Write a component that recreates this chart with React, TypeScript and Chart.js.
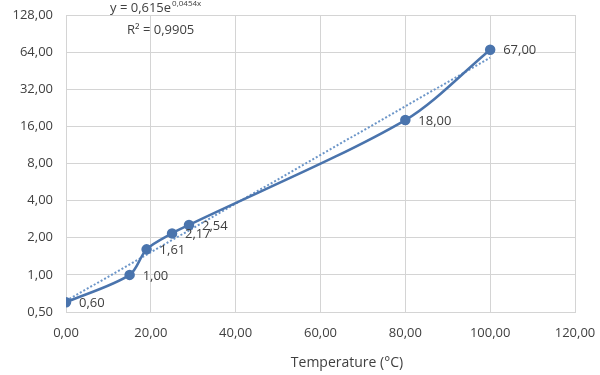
import React, { useEffect, useRef } from "react";
import { Chart, registerables } from "chart.js";

Chart.register(...registerables);

const temperatures = [0, 15, 19, 25, 29, 80, 100];
const values = [0.6, 1.0, 1.61, 2.17, 2.54, 18, 67];
const valueLabels = ["0,60", "1,00", "1,61", "2,17", "2,54", "18,00", "67,00"];
const trendX = [0, 100];
const trendY = [0.615, 57.7];
const yTicks = [0.5, 1, 2, 4, 8, 16, 32, 64, 128];
const xTicks = [0, 20, 40, 60, 80, 100, 120];
const equationMain = "y = 0,615e";
const equationExp = "0,0454x";
const rSquared = "R² = 0,9905";
const xTitle = "Temperature (°C)";

const FONT = "'Open Sans', 'DejaVu Sans', sans-serif";
const fmt = (v: number) => v.toFixed(2).replace(".", ",");

export default function App() {
  const ref = useRef<HTMLCanvasElement | null>(null);

  useEffect(() => {
    document.body.style.margin = "0";
    const canvas = ref.current;
    if (!canvas) return;

    const labelPlugin = {
      id: "customText",
      afterDatasetsDraw(chart: any) {
        const ctx = chart.ctx;
        const meta = chart.getDatasetMeta(0);
        ctx.save();
        ctx.fillStyle = "#404040";
        ctx.font = `13px ${FONT}`;
        ctx.textAlign = "left";
        ctx.textBaseline = "middle";
        meta.data.forEach((pt: any, i: number) => {
          ctx.fillText(valueLabels[i], pt.x + 13, pt.y + 1);
        });
        // equation
        ctx.font = `13px ${FONT}`;
        ctx.textBaseline = "middle";
        const x0 = 110;
        ctx.fillText(equationMain, x0, 8);
        const w = ctx.measureText(equationMain).width;
        ctx.font = `8px ${FONT}`;
        ctx.fillText(equationExp, x0 + w + 1, 4);
        ctx.font = `13px ${FONT}`;
        ctx.fillText(rSquared, 127, 30);
        // axis title
        ctx.textAlign = "center";
        ctx.font = `14px ${FONT}`;
        ctx.fillText(xTitle, 347, 363);
        ctx.restore();
      },
    };

    const chart = new Chart(canvas, {
      type: "scatter",
      data: {
        datasets: [
          {
            label: "data",
            data: temperatures.map((t, i) => ({ x: t, y: values[i] })),
            showLine: true,
            borderColor: "#4a74ad",
            backgroundColor: "#4a74ad",
            borderWidth: 2.5,
            pointRadius: 4,
            pointHoverRadius: 4,
            tension: 0.3,
            order: 1,
          },
          {
            label: "trend",
            data: trendX.map((t, i) => ({ x: t, y: trendY[i] })),
            showLine: true,
            borderColor: "#6b95c8",
            borderWidth: 2,
            borderDash: [2, 2],
            pointRadius: 0,
            order: 2,
          },
        ],
      },
      options: {
        animation: false,
        responsive: false,
        layout: { padding: { top: 15, right: 25, left: 0, bottom: 0 } },
        plugins: {
          legend: { display: false },
          tooltip: { enabled: false },
        },
        scales: {
          x: {
            type: "linear",
            min: 0,
            max: 120,
            afterBuildTicks(axis: any) {
              axis.ticks = xTicks.map((v) => ({ value: v }));
            },
            afterFit(axis: any) {
              axis.height = 63;
              axis.paddingLeft = 0;
              axis.paddingRight = 0;
            },
            grid: { color: "#d4d4d4", drawTicks: false, lineWidth: 1 },
            border: { color: "#d4d4d4" },
            ticks: {
              padding: 13,
              color: "#404040",
              font: { family: FONT, size: 13 },
              callback: (v: any) => fmt(Number(v)),
              maxRotation: 0,
            },
          },
          y: {
            type: "logarithmic",
            min: 0.5,
            max: 128,
            afterBuildTicks(axis: any) {
              axis.ticks = yTicks.map((v) => ({ value: v }));
            },
            afterFit(axis: any) {
              axis.width = 66;
              axis.paddingTop = 0;
              axis.paddingBottom = 0;
            },
            grid: { color: "#d4d4d4", drawTicks: false, lineWidth: 1 },
            border: { color: "#d4d4d4" },
            ticks: {
              padding: 13,
              color: "#404040",
              font: { family: FONT, size: 13 },
              callback: (v: any) => fmt(Number(v)),
            },
          },
        },
      },
      plugins: [labelPlugin],
    } as any);

    return () => chart.destroy();
  }, []);

  return (
    <div style={{ width: 600, height: 375, background: "#fff" }}>
      <canvas ref={ref} width={600} height={375} style={{ display: "block" }} />
    </div>
  );
}
